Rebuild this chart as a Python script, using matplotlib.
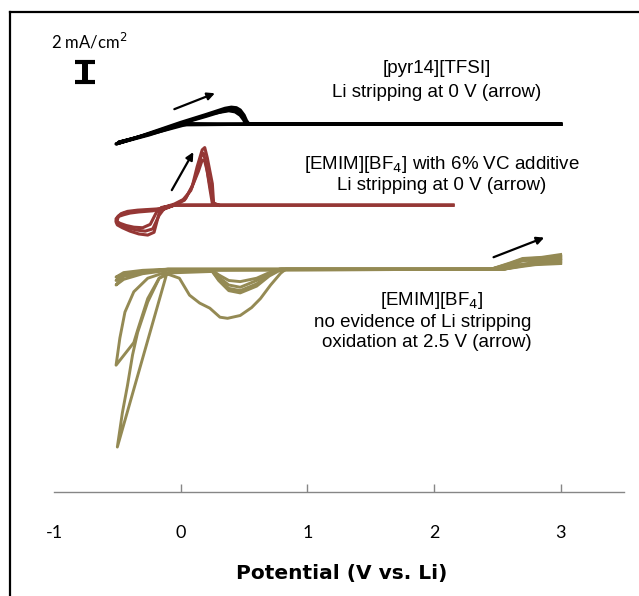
import matplotlib
matplotlib.use('Agg')
import matplotlib.pyplot as plt
from matplotlib.lines import Line2D

plt.rcParams.update({
    'font.family': ['Liberation Sans', 'DejaVu Sans'],
    'axes.spines.top': False,
    'axes.spines.right': False,
    'axes.spines.left': False,
})

# baselines of the stacked traces (mA/cm2, arbitrary offsets)
BASE_PYR = 32.57
BASE_VC = 25.40
BASE_EMIM = 19.73

# [pyr14][TFSI] cycles: potential (V vs Li) / current (mA/cm2)
pyr_v1 = [3.0, 0.55, 0.3, 0.03, -0.2, -0.51, -0.3, 0.0, 0.2, 0.35, 0.40, 0.44, 0.47, 0.50, 0.52, 0.54, 0.6, 3.0]
pyr_i1 = [0, 0, 0, 0.05, -0.7, -1.75, -1.0, 0.15, 0.85, 1.4, 1.5, 1.45, 1.25, 0.8, 0.3, 0.0, 0, 0]
pyr_v2 = [3.0, 0.5, 0.05, -0.2, -0.49, -0.3, 0.0, 0.2, 0.33, 0.40, 0.44, 0.47, 0.50, 0.52, 0.6, 3.0]
pyr_i2 = [0, 0, 0, -0.75, -1.6, -1.05, 0.05, 0.7, 1.15, 1.3, 1.2, 0.95, 0.5, 0.05, 0, 0]
pyr_v3 = [3.0, 0.5, 0.0, -0.25, -0.5, -0.25, 0.05, 0.25, 0.38, 0.43, 0.47, 0.50, 0.51, 0.6, 3.0]
pyr_i3 = [0, 0, -0.05, -0.95, -1.7, -0.85, 0.25, 0.95, 1.2, 1.1, 0.8, 0.35, 0.05, 0, 0]

# [EMIM][BF4] + 6% VC cycles
vc_v1 = [2.15, 0.3, 0.1, -0.05, -0.14, -0.17, -0.21, -0.26, -0.33, -0.40, -0.46, -0.50, -0.51, -0.50,
         -0.47, -0.42, -0.34, -0.21, -0.14, -0.05, 0.03, 0.09, 0.13, 0.17, 0.19, 0.21, 0.25, 0.26, 0.3]
vc_i1 = [0, 0, 0, 0, -0.27, -0.7, -2.4, -2.65, -2.55, -2.3, -2.0, -1.75, -1.5, -1.05,
         -0.75, -0.55, -0.44, -0.35, -0.3, 0, 0.44, 1.6, 3.4, 4.9, 5.1, 4.2, 1.9, 0.2, 0]
vc_v2 = [2.15, 0.3, 0.1, -0.05, -0.13, -0.17, -0.22, -0.28, -0.35, -0.42, -0.47, -0.50, -0.50, -0.49,
         -0.45, -0.40, -0.32, -0.2, -0.13, -0.04, 0.04, 0.1, 0.14, 0.17, 0.19, 0.21, 0.24, 0.26, 0.3]
vc_i2 = [0, 0, 0, 0, -0.3, -0.9, -2.1, -2.3, -2.2, -2.0, -1.75, -1.5, -1.3, -0.95,
         -0.7, -0.6, -0.5, -0.4, -0.35, 0.05, 0.6, 1.9, 3.0, 4.0, 3.9, 3.0, 1.2, 0.1, 0]
vc_v3 = [2.15, 0.3, 0.1, -0.05, -0.15, -0.19, -0.24, -0.30, -0.37, -0.43, -0.48, -0.51, -0.51, -0.49,
         -0.45, -0.40, -0.33, -0.22, -0.15, -0.05, 0.02, 0.08, 0.12, 0.16, 0.18, 0.2, 0.23, 0.25, 0.3]
vc_i3 = [0, 0, 0, 0, -0.2, -0.6, -1.7, -2.0, -1.95, -1.8, -1.6, -1.4, -1.2, -1.0,
         -0.85, -0.7, -0.6, -0.5, -0.25, 0.1, 0.5, 1.3, 2.6, 4.3, 4.6, 3.7, 1.5, 0.15, 0]

# [EMIM][BF4] cycles
emim_v1 = [3.0, 2.8, 2.7, 2.55, 0.83, 0.79, 0.71, 0.63, 0.56, 0.47, 0.37, 0.31, 0.23, 0.15, 0.07, -0.01, -0.11,
           -0.50, -0.46, -0.42, -0.38, -0.34, -0.26, -0.17, -0.05, 2.45, 2.6, 2.7, 2.85, 3.0]
emim_i1 = [0.5, 0.4, 0.25, 0, 0, -0.35, -1.4, -2.6, -3.4, -4.1, -4.35, -4.25, -3.45, -3.0, -2.3, -0.8, -0.4,
           -15.75, -12.7, -10.3, -7.6, -5.6, -2.9, -0.8, -0.1, 0, 0.55, 0.95, 1.05, 1.3]
emim_v2 = [3.0, 2.8, 2.7, 2.55, 0.8, 0.7, 0.6, 0.47, 0.38, 0.3, 0.25, -0.14, -0.26, -0.37, -0.44, -0.48,
           -0.51, -0.37, -0.34, -0.26, -0.17, -0.05, 2.45, 2.6, 2.7, 2.85, 3.0]
emim_i2 = [0.6, 0.45, 0.3, 0, 0, -0.6, -1.5, -2.1, -1.9, -1.0, -0.2, -0.35, -0.8, -2.0, -3.8, -6.1,
           -8.5, -6.5, -5.4, -2.6, -0.8, -0.1, 0, 0.5, 0.9, 1.0, 1.2]
emim_v3 = [3.0, 2.8, 2.7, 2.55, 0.79, 0.7, 0.6, 0.47, 0.38, 0.3, 0.25, -0.1, -0.3, -0.45, -0.51,
           -0.45, -0.3, -0.1, 2.45, 2.6, 2.7, 2.85, 3.0]
emim_i3 = [0.7, 0.5, 0.35, 0, 0, -0.5, -1.3, -1.9, -1.7, -0.9, -0.2, -0.1, -0.4, -0.9, -1.4,
           -0.6, -0.3, 0, 0, 0.45, 0.85, 0.95, 1.1]
emim_v4 = [3.0, 2.8, 2.7, 2.55, 0.78, 0.7, 0.6, 0.47, 0.38, 0.3, 0.25, -0.1, -0.3, -0.45, -0.51,
           -0.45, -0.3, -0.1, 2.45, 2.6, 2.7, 2.85, 3.0]
emim_i4 = [0.8, 0.55, 0.4, 0, 0, -0.4, -1.0, -1.6, -1.4, -0.7, -0.15, -0.05, -0.25, -0.6, -1.0,
           -0.4, -0.2, 0, 0, 0.4, 0.8, 0.9, 1.0]
emim_v5 = [3.0, 2.8, 2.7, 2.55, 0.78, 0.7, 0.6, 0.47, 0.38, 0.3, 0.25, -0.1, -0.3, -0.45, -0.51,
           -0.45, -0.3, -0.1, 2.45, 2.6, 2.7, 2.85, 3.0]
emim_i5 = [0.9, 0.6, 0.45, 0, 0, -0.3, -0.8, -1.1, -1.0, -0.5, -0.1, -0.05, -0.2, -0.45, -0.7,
           -0.3, -0.1, 0, 0, 0.35, 0.75, 0.85, 0.95]

xticks = [-1, 0, 1, 2, 3]

BLACK = '#000000'
RED = '#953735'
GOLD = '#948A54'

fig = plt.figure(figsize=(6.39, 5.96), dpi=100)
ax = fig.add_axes([54 / 639, 104 / 596, 570 / 639, 463 / 596])

for v, i in [(pyr_v1, pyr_i1), (pyr_v2, pyr_i2), (pyr_v3, pyr_i3)]:
    ax.plot(v, [BASE_PYR + c for c in i], color=BLACK, lw=2.4, solid_joinstyle='round')
for v, i in [(vc_v1, vc_i1), (vc_v2, vc_i2), (vc_v3, vc_i3)]:
    ax.plot(v, [BASE_VC + c for c in i], color=RED, lw=2.2, solid_joinstyle='round')
for v, i in [(emim_v1, emim_i1), (emim_v2, emim_i2), (emim_v3, emim_i3),
             (emim_v4, emim_i4), (emim_v5, emim_i5)]:
    ax.plot(v, [BASE_EMIM + c for c in i], color=GOLD, lw=2.1, solid_joinstyle='round')

# scan direction arrows
arrow = dict(arrowstyle='-|>', color=BLACK, lw=1.6, mutation_scale=11, shrinkA=0, shrinkB=0)
ax.annotate('', xy=(0.27, BASE_PYR + 2.74), xytext=(-0.05, BASE_PYR + 1.33), arrowprops=arrow)
ax.annotate('', xy=(0.10, BASE_VC + 4.7), xytext=(-0.07, BASE_VC + 1.33), arrowprops=arrow)
ax.annotate('', xy=(2.87, BASE_EMIM + 2.8), xytext=(2.47, BASE_EMIM + 1.06), arrowprops=arrow)

# 2 mA/cm2 scale bar
sb_x, sb_y = -0.754, 36.2
ax.plot([sb_x, sb_x], [sb_y, sb_y + 2], color=BLACK, lw=4.3, solid_capstyle='butt')
for yy in (sb_y + 0.15, sb_y + 1.85):
    ax.plot([sb_x - 0.08, sb_x + 0.08], [yy, yy], color=BLACK, lw=3.0, solid_capstyle='butt')
ax.text(-0.72, 39.9, '2 mA/cm$^2$', fontsize=12, family='Lato', ha='center', va='center')

txt = dict(fontsize=13.5, ha='center', va='center', color=BLACK)
ax.text(2.02, 37.5, '[pyr14][TFSI]', **txt)
ax.text(2.02, 35.4, 'Li stripping at 0 V (arrow)', **txt)
ax.text(2.06, 29.0, '[EMIM][BF$_4$] with 6% VC additive', **txt)
ax.text(2.06, 27.1, 'Li stripping at 0 V (arrow)', **txt)
ax.text(1.98, 17.0, '[EMIM][BF$_4$]', **txt)
ax.text(1.91, 15.0, 'no evidence of Li stripping', **txt)
ax.text(1.94, 13.2, 'oxidation at 2.5 V (arrow)', **txt)

ax.set_xlim(-1, 3.5)
ax.set_ylim(0, 41)
ax.set_yticks([])
ax.set_xticks(xticks)
ax.set_xticklabels([str(t) for t in xticks], family='Lato', fontsize=13)
ax.tick_params(axis='x', direction='in', length=6, width=1, color='#868686', pad=24)
ax.xaxis.get_major_ticks()[0].tick1line.set_visible(False)
ax.spines['bottom'].set_color('#868686')
ax.spines['bottom'].set_linewidth(1.0)
ax.set_xlabel('Potential (V vs. Li)', family='DejaVu Sans', fontsize=14.5, fontweight='bold')
ax.xaxis.set_label_coords(0.505, -0.155)
ax.patch.set_visible(False)

# outer frame (left and top edges)
fig.add_artist(Line2D([10 / 639, 10 / 639], [0, 1 - 12 / 596], color=BLACK, lw=1.6,
                      transform=fig.transFigure))
fig.add_artist(Line2D([10 / 639, 1], [1 - 12 / 596, 1 - 12 / 596], color=BLACK, lw=1.6,
                      transform=fig.transFigure))

fig.savefig('out.png', dpi=100)
